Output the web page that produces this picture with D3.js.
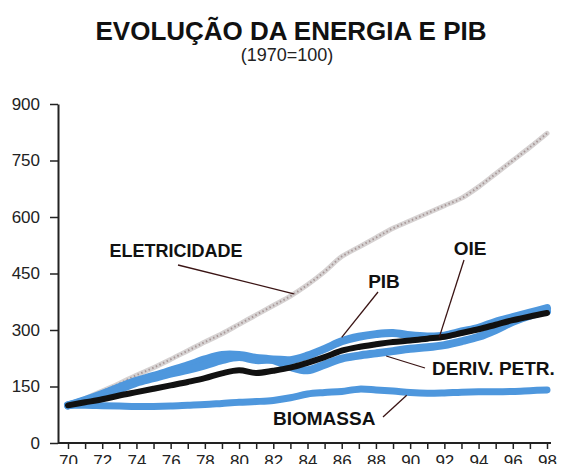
<!DOCTYPE html>
<html>
<head>
<meta charset="utf-8">
<script src="https://cdn.jsdelivr.net/npm/d3@7"></script>
<style>
  body { margin: 0; background: #fff; }
  svg { display: block; font-family: "Liberation Sans", Arial, sans-serif; }
</style>
</head>
<body>
<div id="chart"></div>
<script>
// data (1970 = 100)
var years = d3.range(70, 99);
var eletricidade = [100, 118, 138, 158, 180, 200, 222, 245, 268, 290, 315, 340, 365, 390, 420,
  455, 495, 520, 545, 570, 590, 610, 630, 650, 680, 715, 750, 785, 822];
var pib = [100, 112, 126, 142, 160, 172, 184, 194, 206, 220, 228, 220, 222, 220, 232,
  250, 270, 282, 289, 292, 286, 283, 285, 296, 306, 322, 334, 346, 358];
var derivPetr = [100, 114, 130, 148, 165, 178, 192, 206, 222, 234, 234, 226, 220, 202, 193,
  208, 224, 232, 238, 244, 250, 254, 260, 270, 282, 300, 322, 338, 350];
var oie = [100, 108, 116, 126, 135, 144, 153, 162, 172, 185, 193, 186, 192, 200, 213,
  228, 245, 255, 262, 268, 272, 277, 282, 292, 302, 314, 326, 336, 345];
var biomassa = [100, 100, 99, 98, 97, 97, 98, 100, 102, 105, 108, 110, 113, 120, 130,
  134, 137, 143, 141, 138, 134, 132, 133, 135, 136, 136, 137, 139, 141];
var yTicks = [0, 150, 300, 450, 600, 750, 900];

var width = 568, height = 464;
var x = d3.scaleLinear().domain([70, 98]).range([68, 547]);
var y = d3.scaleLinear().domain([0, 900]).range([443, 104]);
var axisX = 58;

var svg = d3.select("#chart").append("svg")
  .attr("width", width)
  .attr("height", height);

// titles
svg.append("text")
  .attr("x", 291).attr("y", 40)
  .attr("text-anchor", "middle")
  .style("font-size", "26px").style("font-weight", "bold").style("fill", "#111")
  .text("EVOLUÇÃO DA ENERGIA E PIB");
svg.append("text")
  .attr("x", 287).attr("y", 61)
  .attr("text-anchor", "middle")
  .style("font-size", "18px").style("fill", "#222")
  .text("(1970=100)");

// y axis
var gy = svg.append("g")
  .attr("transform", "translate(" + axisX + ",0)")
  .call(d3.axisLeft(y).tickValues(yTicks).tickSize(8).tickSizeOuter(0).tickPadding(10));
gy.select(".domain").attr("stroke", "#222").attr("stroke-width", 2);
gy.selectAll(".tick line").attr("stroke", "#222").attr("stroke-width", 1.5);
gy.selectAll("text").style("font-size", "17px").style("fill", "#222");

// x axis
var gx = svg.append("g")
  .attr("transform", "translate(0," + y(0) + ")")
  .call(d3.axisBottom(x).tickValues(years).tickSize(6).tickSizeOuter(0).tickPadding(6)
    .tickFormat(function (d) { return d % 2 === 0 ? d : ""; }));
gx.select(".domain").remove();
gx.append("line")
  .attr("x1", axisX).attr("x2", x(98) + 4)
  .attr("stroke", "#222").attr("stroke-width", 2);
gx.selectAll(".tick line").attr("stroke", "#222").attr("stroke-width", 1.5);
gx.selectAll("text").style("font-size", "17px").style("fill", "#222");

// lines
function series(values) {
  return years.map(function (yr, i) { return [yr, values[i]]; });
}
var line = d3.line()
  .x(function (d) { return x(d[0]); })
  .y(function (d) { return y(d[1]); })
  .curve(d3.curveCatmullRom);

var blue = "#4e97dd";

svg.append("path").datum(series(eletricidade))
  .attr("d", line).attr("fill", "none")
  .attr("stroke", "#d6d2d2").attr("stroke-width", 5).attr("stroke-linecap", "round");
svg.append("path").datum(series(eletricidade))
  .attr("d", line).attr("fill", "none")
  .attr("stroke", "#a89898").attr("stroke-width", 2).attr("stroke-dasharray", "1.5,2.5");

svg.append("path").datum(series(biomassa))
  .attr("d", line).attr("fill", "none")
  .attr("stroke", blue).attr("stroke-width", 7).attr("stroke-linecap", "round");

svg.append("path").datum(series(derivPetr))
  .attr("d", line).attr("fill", "none")
  .attr("stroke", blue).attr("stroke-width", 8).attr("stroke-linecap", "round");

svg.append("path").datum(series(pib))
  .attr("d", line).attr("fill", "none")
  .attr("stroke", blue).attr("stroke-width", 8).attr("stroke-linecap", "round");

svg.append("path").datum(series(oie))
  .attr("d", line).attr("fill", "none")
  .attr("stroke", "#111").attr("stroke-width", 6).attr("stroke-linecap", "round");

// annotations: label layout plus the year the leader points at
function valueAt(values, yr) {
  var i = Math.floor(yr - 70), t = yr - 70 - i;
  if (i >= values.length - 1) return values[values.length - 1];
  return values[i] * (1 - t) + values[i + 1] * t;
}
var notes = [
  { text: "ELETRICIDADE", values: eletricidade, year: 83.2, tx: 176, ty: 257, anchor: "middle", lx: 178, ly: 265, off: 0, size: 18 },
  { text: "PIB", values: pib, year: 86, tx: 384, ty: 288, anchor: "middle", lx: 378, ly: 292, off: -4, size: 19 },
  { text: "OIE", values: oie, year: 91.7, tx: 470, ty: 255, anchor: "middle", lx: 464, ly: 260, off: 0, size: 19 },
  { text: "DERIV. PETR.", values: derivPetr, year: 88.6, tx: 432, ty: 375, anchor: "start", lx: 425, ly: 368, off: 4, size: 19 },
  { text: "BIOMASSA", values: biomassa, year: 89.8, tx: 273, ty: 425, anchor: "start", lx: 383, ly: 417, off: 3, size: 19 }
];

svg.selectAll(".leader").data(notes).enter().append("line")
  .attr("class", "leader")
  .attr("x1", function (d) { return d.lx; })
  .attr("y1", function (d) { return d.ly; })
  .attr("x2", function (d) { return x(d.year); })
  .attr("y2", function (d) { return y(valueAt(d.values, d.year)) + d.off; })
  .attr("stroke", "#3a1414").attr("stroke-width", 1.3);

svg.selectAll(".note").data(notes).enter().append("text")
  .attr("class", "note")
  .attr("x", function (d) { return d.tx; })
  .attr("y", function (d) { return d.ty; })
  .attr("text-anchor", function (d) { return d.anchor; })
  .style("font-size", function (d) { return d.size + "px"; })
  .style("font-weight", "bold").style("fill", "#111")
  .text(function (d) { return d.text; });
</script>
</body>
</html>
